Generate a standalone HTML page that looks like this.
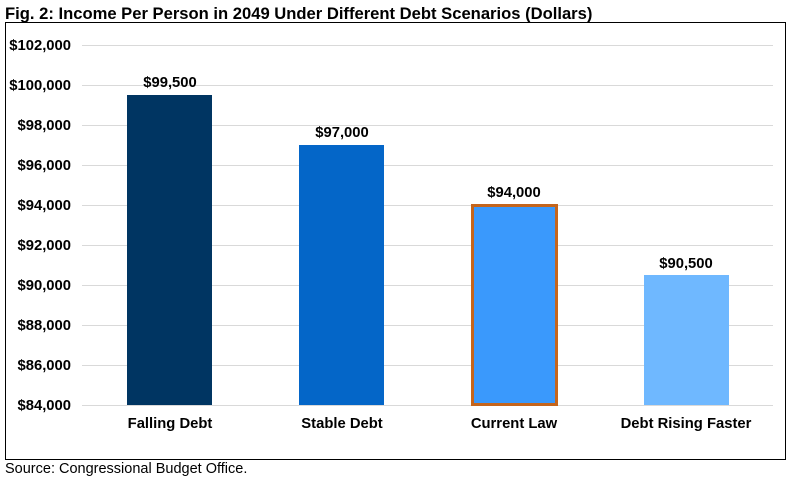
<!DOCTYPE html>
<html><head><style>
body{margin:0;background:#fff;}
svg{display:block;font-family:"Liberation Sans",Arial,sans-serif;}
</style></head><body>
<svg width="795" height="482" xmlns="http://www.w3.org/2000/svg">
<text x="5" y="19" font-size="16.6" font-weight="bold" fill="#000">Fig. 2: Income Per Person in 2049 Under Different Debt Scenarios (Dollars)</text>
<rect x="5.5" y="22.5" width="780" height="437" fill="none" stroke="#000" stroke-width="1"/>
<g stroke="#d9d9d9" stroke-width="1">
<line x1="82" x2="773" y1="45.5" y2="45.5"/>
<line x1="82" x2="773" y1="85.5" y2="85.5"/>
<line x1="82" x2="773" y1="125.5" y2="125.5"/>
<line x1="82" x2="773" y1="165.5" y2="165.5"/>
<line x1="82" x2="773" y1="205.5" y2="205.5"/>
<line x1="82" x2="773" y1="245.5" y2="245.5"/>
<line x1="82" x2="773" y1="285.5" y2="285.5"/>
<line x1="82" x2="773" y1="325.5" y2="325.5"/>
<line x1="82" x2="773" y1="365.5" y2="365.5"/>
<line x1="82" x2="773" y1="405.5" y2="405.5"/>
</g>
<g font-size="14.8" font-weight="bold" fill="#000" text-anchor="end">
<text x="71" y="50">$102,000</text>
<text x="71" y="90">$100,000</text>
<text x="71" y="130">$98,000</text>
<text x="71" y="170">$96,000</text>
<text x="71" y="210">$94,000</text>
<text x="71" y="250">$92,000</text>
<text x="71" y="290">$90,000</text>
<text x="71" y="330">$88,000</text>
<text x="71" y="370">$86,000</text>
<text x="71" y="410">$84,000</text>
</g>
<rect x="127" y="95" width="85" height="310" fill="#003562"/>
<rect x="299" y="145" width="85" height="260" fill="#0466c8"/>
<rect x="472.5" y="205.5" width="84" height="199" fill="#3a99fc" stroke="#c5651c" stroke-width="3"/>
<rect x="644" y="275" width="85" height="130" fill="#6fb8ff"/>
<g font-size="14.8" font-weight="bold" fill="#000" text-anchor="middle">
<text x="170" y="87">$99,500</text>
<text x="342" y="137">$97,000</text>
<text x="514" y="197">$94,000</text>
<text x="686" y="268">$90,500</text>
<text x="170" y="428">Falling Debt</text>
<text x="342" y="428">Stable Debt</text>
<text x="514" y="428">Current Law</text>
<text x="686" y="428">Debt Rising Faster</text>
</g>
<text x="5" y="473" font-size="14.5" fill="#000">Source: Congressional Budget Office.</text>
</svg>
</body></html>
